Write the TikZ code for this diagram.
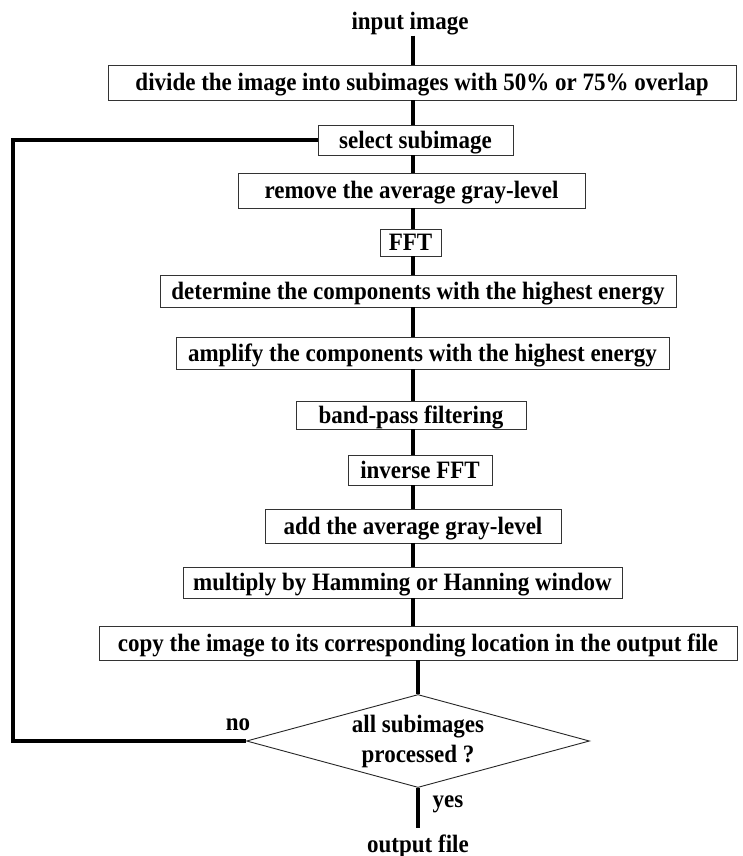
\documentclass[tikz,border=0pt]{standalone}
\usepackage{fontspec}
\setmainfont{Liberation Serif}[FakeStretch=0.92]
\usetikzlibrary{shapes.geometric}
\tikzset{
  txt/.style={font=\bfseries\fontsize{25}{30}\selectfont, inner sep=0pt},
  stepbox/.style={txt, draw=black!80, line width=0.9pt, text height=17pt, text depth=1pt, anchor=center},
  conn/.style={line width=4.5pt, black},
  decision/.style={txt, diamond, draw=black!85, line width=0.9pt, align=center, aspect=3.7}
}
\begin{document}
\begin{tikzpicture}[x=1pt,y=-1pt]
\useasboundingbox (0,0) rectangle (742,856);
\fill[white] (0,0) rectangle (742,856);
\coordinate (spine) at (413,0);
\coordinate (lp) at (13,141);

\node[txt] (in) at (410,24) {input image};
\node[stepbox, minimum width=628pt, minimum height=35pt] (b1) at (422,82.5) {divide the image into subimages with 50\% or 75\% overlap};
\node[stepbox, minimum width=195pt, minimum height=30pt] (b2) at (415.5,140) {select subimage};
\node[stepbox, minimum width=347pt, minimum height=35pt] (b3) at (411.5,190.5) {remove the average gray-level};
\node[stepbox, minimum width=61pt, minimum height=27pt] (b4) at (410.5,242.5) {FFT};
\node[stepbox, minimum width=516pt, minimum height=32pt] (b5) at (418,291) {determine the components with the highest energy};
\node[stepbox, minimum width=493pt, minimum height=32pt] (b6) at (422.5,353) {amplify the components with the highest energy};
\node[stepbox, minimum width=230pt, minimum height=28pt] (b7) at (411,415) {band-pass filtering};
\node[stepbox, minimum width=144pt, minimum height=30pt] (b8) at (420,470) {inverse FFT};
\node[stepbox, minimum width=296pt, minimum height=34pt] (b9) at (413,526) {add the average gray-level};
\node[stepbox, minimum width=439pt, minimum height=31pt] (b10) at (402.5,582.5) {multiply by Hamming or Hanning window};
\node[stepbox, minimum width=638pt, minimum height=34pt] (b11) at (418,643) {copy the image to its corresponding location in the output file};
\node[decision, minimum width=343pt, minimum height=93pt] (dia) at (418,741) {all subimages\\processed ?};
\node[txt] (no) at (238,725) {no};
\node[txt] (yes) at (448,804) {yes};
\node[txt] (out) at (418,846) {output file};

\draw[conn] (in.south -| spine) -- (b1.north -| spine);
\draw[conn] (b1.south -| spine) -- (b2.north -| spine);
\draw[conn] (b2.south -| spine) -- (b3.north -| spine);
\draw[conn] (b3.south -| spine) -- (b4.north -| spine);
\draw[conn] (b4.south -| spine) -- (b5.north -| spine);
\draw[conn] (b5.south -| spine) -- (b6.north -| spine);
\draw[conn] (b6.south -| spine) -- (b7.north -| spine);
\draw[conn] (b7.south -| spine) -- (b8.north -| spine);
\draw[conn] (b8.south -| spine) -- (b9.north -| spine);
\draw[conn] (b9.south -| spine) -- (b10.north -| spine);
\draw[conn] (b10.south -| spine) -- (b11.north -| spine);
\draw[conn] (b11.south -| dia.north) -- (dia.north);
\draw[conn, shorten >=6pt] (dia.south) -- (out.north);
\draw[conn, line join=miter] (b2.west) -- (b2.west -| lp) |- (dia.west);
\end{tikzpicture}
\end{document}
